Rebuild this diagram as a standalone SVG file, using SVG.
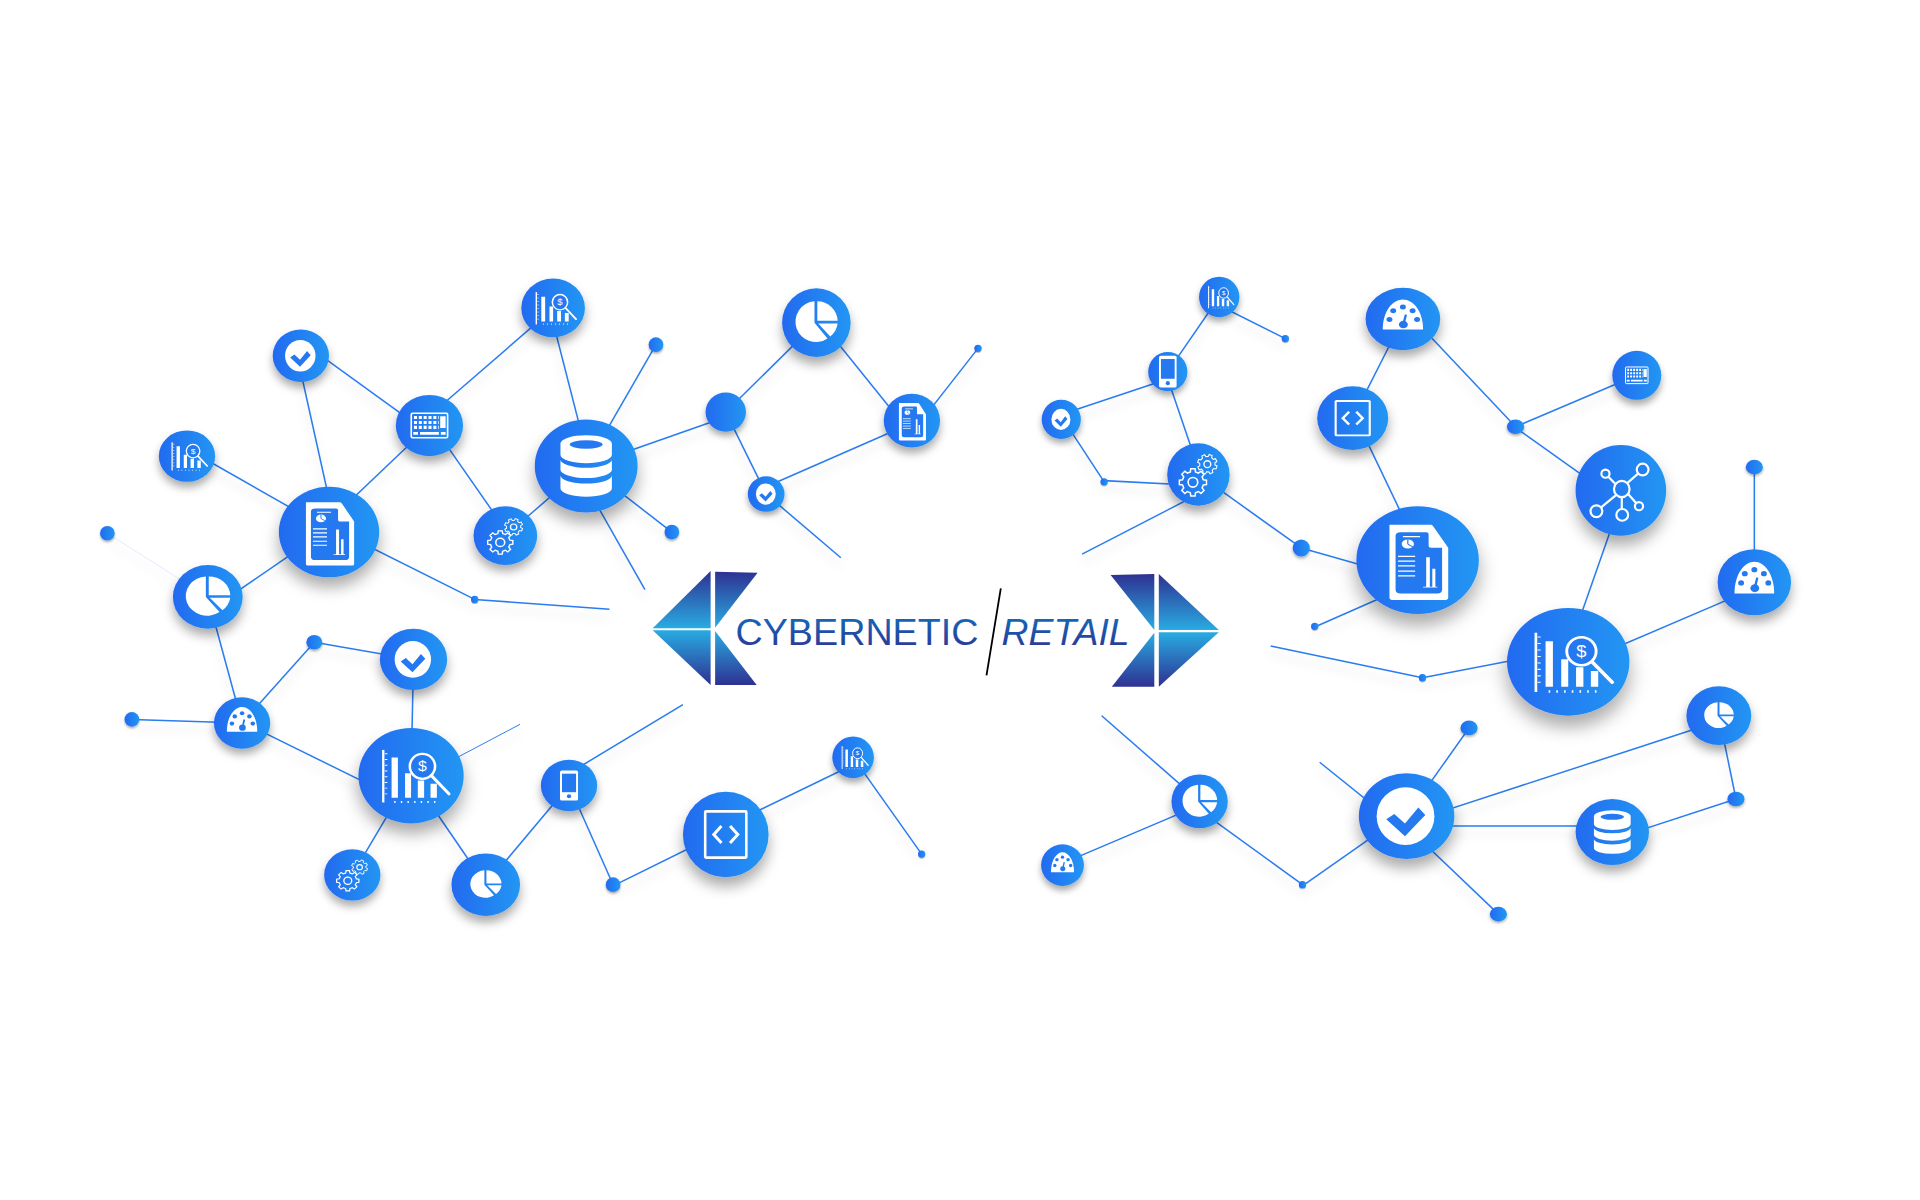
<svg xmlns="http://www.w3.org/2000/svg" width="1920" height="1200" viewBox="0 0 1920 1200">
<style>
.c line{stroke:#2a7cf0;stroke-width:1.25;fill:none}
.w{fill:#fff}.b{fill:#2479f0}
.o{fill:none;stroke:#fff;stroke-width:2.4}
.l{fill:none;stroke:#fff;stroke-width:2}
.f{fill:#2479f0;stroke:#fff;stroke-width:2.4}
.logo text{font-family:"Liberation Sans",Arial,sans-serif;fill:url(#tx)}
</style>
<defs>
<linearGradient id="g" x1="0" x2="1" y1="0" y2="0"><stop offset="0" stop-color="#246af0"/><stop offset="1" stop-color="#2196f3"/></linearGradient>
<linearGradient id="d" x1="0" x2="0" y1="0" y2="1"><stop offset="0" stop-color="#2e3192"/><stop offset="1" stop-color="#29abe2"/></linearGradient>
<linearGradient id="u" x1="0" x2="0" y1="1" y2="0"><stop offset="0" stop-color="#2e3192"/><stop offset="1" stop-color="#29abe2"/></linearGradient>
<linearGradient id="tx" x1="0" x2="0" y1="0" y2="1"><stop offset="0" stop-color="#0f72bd"/><stop offset="1" stop-color="#2e3192"/></linearGradient>
<filter id="s" x="-60%" y="-60%" width="220%" height="240%"><feDropShadow dx="0" dy="11" stdDeviation="8" flood-color="#000" flood-opacity=".33"/></filter>
<filter id="ls" x="-5%" y="-5%" width="110%" height="115%"><feDropShadow dx="0" dy="7" stdDeviation="4" flood-color="#000" flood-opacity=".13"/></filter>
<circle id="disc" r="50" fill="url(#g)" filter="url(#s)"/>
<g id="chart">
<rect class="w" x="-27.5" y="-27" width="2.2" height="55"/>
<path d="M-25-23h2.5M-25-17h2.5M-25-11h2.5M-25-5h2.5M-25 1h2.5M-25 7h2.5M-25 13h2.5M-25 19h2.5" stroke="#fff" stroke-width="1" fill="none"/>
<path class="w" d="M-18.5-19h6v42h-6zM-5.7-2.5h5.7v25.500h-5.700zM6.400 5h6v18h-6zM18.500 8.400h6v14.600h-6z"/>
<path d="M-16 27.500H26" stroke="#fff" stroke-width="2.200" stroke-dasharray="1.300 5" fill="none"/>
<ellipse class="f" cx="10.800" cy="-9.800" rx="12" ry="13"/>
<path d="M19.500 0L36 19" stroke="#fff" stroke-width="3" stroke-linecap="round"/>
<text x="10.800" y="-4.500" text-anchor="middle" font-family="'Liberation Sans',sans-serif" font-size="15" fill="#fff">$</text>
</g>
<g id="check"><ellipse class="w" cx="-1" cy="0" rx="27" ry="30"/><polygon class="b" points="-19,3.300 -11.500,-2.200 -1.500,7.800 11,-8.900 17.500,-1.100 -1.500,21"/></g>
<g id="kbd"><rect class="o" x="-27" y="-20" width="54" height="40" rx="2"/>
<path d="M-23-13H14M-23-5H14M-23 3H14" stroke="#fff" stroke-width="5" stroke-dasharray="4.500 2.700" fill="none"/>
<path class="w" d="M16-15h8v19h-8zM-14 10.500h28v4.500h-28zM-24 10.500h7v4.500h-7zM17 10.500h7v4.500h-7z"/></g>
<g id="doc" transform="translate(1 2) scale(1 .85)"><path class="w" d="M-24-41H10Q11-41 12-39L24-16V39Q24 41 22 41H-22Q-24 41-24 39Z"/>
<path class="b" d="M-19-33H6Q8-33 8-31V-18Q8-16 10-16H19V30Q19 34 15 34H-15Q-19 34-19 30V-29Q-19-33-15-33Z"/>
<circle class="w" cx="-9" cy="-20" r="5"/><path d="M-9-20V-25M-9-20L-5-17" stroke="#2479f0" fill="none"/>
<path d="M-13-28H1M-17-6.500H-3M-17-1.300H-3M-17 3.900H-3M-17 9.500H-3M-17 14.700H-3" stroke="#fff" stroke-width="1.400" fill="none"/>
<path class="w" d="M6-5.600h3v32.600h-3zM11 7h2.500v20h-2.500zM3.500 26.500h11.500v1h-11.500z"/></g>
<g id="db"><path class="w" d="M-25-24A25 9 0 0 1 25-24V-12A25 9 0 0 1-25-12Z"/><ellipse class="b" cx="0" cy="-23" rx="16" ry="4.500"/>
<path class="w" d="M-25-7A25 9 0 0 0 25-7V4A25 9 0 0 1-25 4Z"/><path class="w" d="M-25 10A25 9 0 0 0 25 10V24A25 9 0 0 1-25 24Z"/></g>
<polygon id="gp" points="15.140,-3.770 19.750,-3.130 19.750,3.130 15.140,3.770 13.370,8.030 16.180,11.760 11.760,16.180 8.030,13.370 3.770,15.140 3.130,19.750 -3.130,19.750 -3.770,15.140 -8.030,13.370 -11.760,16.180 -16.180,11.760 -13.370,8.030 -15.140,3.770 -19.750,3.130 -19.750,-3.130 -15.140,-3.770 -13.370,-8.030 -16.180,-11.760 -11.760,-16.180 -8.030,-13.370 -3.770,-15.140 -3.130,-19.750 3.130,-19.750 3.770,-15.140 8.030,-13.370 11.760,-16.180 16.180,-11.760 13.370,-8.030" fill="none" stroke="#fff" stroke-width="2.200"/>
<g id="gears"><use href="#gp" transform="translate(-8 11.400)"/><circle class="o" cx="-8" cy="11.400" r="7"/>
<use href="#gp" transform="translate(13 -15) scale(.72) rotate(20)"/><circle class="l" cx="13" cy="-15" r="5"/></g>
<g id="pie"><path class="w" d="M-2-23A22 22 0 1 0 12 17L-2 0Z"/><path class="w" d="M1-23A22 22 0 0 1 23-2H1Z"/><path class="w" d="M2 1H23A22 22 0 0 1 15 15Z"/></g>
<g id="gauge"><path class="w" d="M-27 17C-27-12-14-31 0-31C14-31 27-12 27 17Z"/>
<g class="b"><circle cx="-13" cy="-13" r="4"/><circle cx="0" cy="-19" r="4"/><circle cx="13" cy="-13" r="4"/><circle cx="-18" cy="1" r="4"/><circle cx="19" cy="1" r="4"/><circle cx=".6" cy="9" r="6"/></g>
<path d="M.6 9L4-7" stroke="#2479f0" stroke-width="3.200"/></g>
<g id="code"><rect x="-24" y="-27" width="48" height="54" fill="none" stroke="#fff" stroke-width="3" rx="1"/>
<path d="M-5-10L-14 0L-5 10M5-10L14 0L5 10" fill="none" stroke="#fff" stroke-width="3.500"/></g>
<g id="phone"><rect class="w" x="-16" y="-29" width="32" height="58" rx="3"/><rect class="b" x="-12.500" y="-23" width="25" height="36"/><circle class="b" cx="0" cy="21" r="3.800"/></g>
<g id="net" class="o"><path d="M7-8L24-23M-6-7L-17-18.500M-5 5L-27 23M1 7V27M8 4L20 17.400"/>
<ellipse cx="1" cy="-1.500" rx="8.600" ry="9"/><ellipse cx="24" cy="-23" rx="6.500" ry="6.500" fill="#2280f1"/><ellipse cx="-17" cy="-18.500" rx="4.500" ry="4.500" fill="#2280f1"/><ellipse cx="-27" cy="23" rx="6.500" ry="6.500" fill="#2280f1"/><ellipse cx="1.500" cy="27" rx="6.500" ry="6.500" fill="#2280f1"/><ellipse cx="20" cy="17.400" rx="4.500" ry="4.500" fill="#2280f1"/></g>
</defs>
<rect width="1920" height="1200" fill="#fff"/>
<g transform="scale(1.2245) translate(.7 .5)">
<g id="connectors" class="c" filter="url(#ls)">
<line x1="245" y1="278" x2="350" y2="354"/><line x1="242" y1="290" x2="274" y2="434"/><line x1="350" y1="339" x2="451" y2="251.600"/><line x1="448" y1="251" x2="481" y2="380"/><line x1="152" y1="366" x2="268" y2="432"/><line x1="268" y1="425" x2="350" y2="347"/><line x1="350" y1="343" x2="412" y2="432"/><line x1="412" y1="437" x2="478" y2="380"/><line x1="478" y1="380" x2="535" y2="281"/><line x1="478" y1="380" x2="592" y2="340"/><line x1="478" y1="380" x2="548" y2="434"/><line x1="480" y1="400" x2="526" y2="481"/><line x1="268" y1="431" x2="169" y2="499"/><line x1="268" y1="429.500" x2="387" y2="489"/><line x1="387" y1="489" x2="497" y2="497"/>
<line x1="87" y1="435" x2="169" y2="487" style="stroke:#dde9fd;stroke-width:.7"/>
<line x1="169" y1="487" x2="197" y2="590"/><line x1="197" y1="590" x2="256" y2="524"/><line x1="256" y1="524" x2="337" y2="538"/><line x1="107" y1="587" x2="197" y2="590"/><line x1="197" y1="589" x2="335" y2="657"/><line x1="337" y1="538" x2="335" y2="633"/><line x1="335" y1="638" x2="424" y2="591" style="stroke-width:.8"/><line x1="335" y1="633" x2="287" y2="714"/><line x1="335" y1="633" x2="396" y2="722"/><line x1="396" y1="722" x2="464" y2="641"/><line x1="464" y1="631" x2="557" y2="575"/><line x1="464" y1="641" x2="500" y2="722"/><line x1="500" y1="723" x2="592" y2="677.500"/><line x1="592" y1="674.500" x2="696" y2="624"/><line x1="696" y1="618" x2="752" y2="697"/><line x1="592" y1="336" x2="666" y2="263"/><line x1="592" y1="336" x2="625" y2="403"/><line x1="666" y1="258" x2="744" y2="354.700"/><line x1="744" y1="353" x2="798" y2="284"/><line x1="744" y1="345" x2="625" y2="397"/><line x1="625" y1="403" x2="686" y2="455"/>
<line x1="995" y1="249" x2="1049" y2="276"/><line x1="995" y1="242" x2="953" y2="303"/><line x1="953" y1="309" x2="866" y2="338"/><line x1="951" y1="303" x2="979.600" y2="387"/><line x1="866" y1="339.500" x2="901" y2="393"/><line x1="901" y1="392" x2="978" y2="396"/><line x1="978" y1="403" x2="883" y2="452"/><line x1="978" y1="387" x2="1062" y2="447"/><line x1="1062" y1="447" x2="1157" y2="474"/><line x1="1145" y1="260" x2="1104" y2="341"/><line x1="1106.500" y1="341" x2="1162" y2="457"/><line x1="1145" y1="250.600" x2="1237" y2="348"/><line x1="1237" y1="348" x2="1336" y2="306"/><line x1="1237" y1="348.700" x2="1323" y2="410"/><line x1="1326" y1="400" x2="1277" y2="540"/><line x1="1157" y1="474.600" x2="1073" y2="511.600"/><line x1="1037" y1="527" x2="1161" y2="553"/><line x1="1161" y1="553" x2="1280" y2="530"/><line x1="1280" y1="545" x2="1432" y2="480"/><line x1="1432" y1="475" x2="1432" y2="381"/><line x1="1148" y1="666" x2="1199" y2="594"/><line x1="1148" y1="671.700" x2="1403" y2="588.500"/><line x1="1148" y1="674" x2="1316" y2="674"/><line x1="1148" y1="674.500" x2="1223" y2="746"/><line x1="1077" y1="622" x2="1148" y2="679"/><line x1="1148" y1="663.300" x2="1063" y2="723"/><line x1="1403" y1="584" x2="1417" y2="652"/><line x1="1417" y1="652" x2="1316" y2="685"/><line x1="979" y1="654" x2="899" y2="584"/><line x1="979" y1="657" x2="867" y2="704.600"/><line x1="979" y1="661" x2="1063" y2="722"/>
</g>
<g id="n1" transform="translate(451 251) scale(.52 .48)"><use href="#disc"/><use href="#chart"/></g>
<g id="n2" transform="translate(245 290) scale(.46 .43)"><use href="#disc"/><use href="#check"/></g>
<g id="n3" transform="translate(350 347) scale(.55 .5)"><use href="#disc"/><use href="#kbd"/></g>
<g id="n4" transform="translate(152 372) scale(.46 .42)"><use href="#disc"/><use href="#chart"/></g>
<g id="n5" transform="translate(268 434) scale(.82 .74)"><use href="#disc"/><use href="#doc"/></g>
<g id="n6" transform="translate(478 380) scale(.84 .76)"><use href="#disc"/><use href="#db"/></g>
<g id="n7" transform="translate(412 437) scale(.52 .48)"><use href="#disc"/><use href="#gears"/></g>
<g id="n8" transform="translate(169 487) scale(.57 .52)"><use href="#disc"/><use href="#pie" transform="scale(1.4)"/></g>
<g id="n9" transform="translate(87 435) scale(.12)"><use href="#disc"/></g>
<g id="n10" transform="translate(535 281) scale(.12)"><use href="#disc"/></g>
<g id="n11" transform="translate(548 434) scale(.12)"><use href="#disc"/></g>
<g id="n12" transform="translate(387 489) scale(.06)"><use href="#disc"/></g>
<g id="n13" transform="translate(592 336) scale(.33 .32)"><use href="#disc"/></g>
<g id="n14" transform="translate(666 263) scale(.56)"><use href="#disc"/><use href="#pie" transform="scale(1.35)"/></g>
<g id="n15" transform="translate(744 343) scale(.46 .44)"><use href="#disc"/><use href="#doc"/></g>
<g id="n16" transform="translate(625 403) scale(.3 .29)"><use href="#disc"/><use href="#check"/></g>
<g id="n17" transform="translate(798 284) scale(.06)"><use href="#disc"/></g>
<g id="n18" transform="translate(337 538) scale(.55 .5)"><use href="#disc"/><use href="#check"/></g>
<g id="n19" transform="translate(256 524) scale(.13 .12)"><use href="#disc"/></g>
<g id="n20" transform="translate(197 590) scale(.46 .42)"><use href="#disc"/><use href="#gauge"/></g>
<g id="n21" transform="translate(107 587) scale(.12)"><use href="#disc"/></g>
<g id="n22" transform="translate(335 633) scale(.86 .78)"><use href="#disc"/><use href="#chart"/></g>
<g id="n23" transform="translate(287 714) scale(.46 .42)"><use href="#disc"/><use href="#gears"/></g>
<g id="n24" transform="translate(396 722) scale(.56 .51)"><use href="#disc"/><use href="#pie"/></g>
<g id="n25" transform="translate(464 641) scale(.46 .42)"><use href="#disc"/><use href="#phone"/></g>
<g id="n26" transform="translate(500 722) scale(.12)"><use href="#disc"/></g>
<g id="n27" transform="translate(592 681) scale(.7)"><use href="#disc"/><use href="#code"/></g>
<g id="n28" transform="translate(696 618) scale(.34)"><use href="#disc"/><use href="#chart"/></g>
<g id="n29" transform="translate(752 697) scale(.06)"><use href="#disc"/></g>
<g id="n30" transform="translate(995 242) scale(.33)"><use href="#disc"/><use href="#chart"/></g>
<g id="n31" transform="translate(1049 276) scale(.06)"><use href="#disc"/></g>
<g id="n32" transform="translate(953 303) scale(.32)"><use href="#disc"/><use href="#phone" transform="scale(1.4)"/></g>
<g id="n33" transform="translate(866 342) scale(.32)"><use href="#disc"/><use href="#check" transform="scale(.9)"/></g>
<g id="n34" transform="translate(978 387) scale(.51)"><use href="#disc"/><use href="#gears" transform="scale(1.1)"/></g>
<g id="n35" transform="translate(901 393) scale(.06)"><use href="#disc"/></g>
<g id="n36" transform="translate(1062 447) scale(.14)"><use href="#disc"/></g>
<g id="n37" transform="translate(1145 260) scale(.61 .51)"><use href="#disc"/><use href="#gauge"/></g>
<g id="n38" transform="translate(1104 341) scale(.58 .52)"><use href="#disc"/><use href="#code"/></g>
<g id="n39" transform="translate(1157 457) scale(1 .88)"><use href="#disc"/><use href="#doc"/></g>
<g id="n40" transform="translate(1073 511) scale(.06)"><use href="#disc"/></g>
<g id="n41" transform="translate(1237 348) scale(.14 .12)"><use href="#disc"/></g>
<g id="n42" transform="translate(1336 306) scale(.4)"><use href="#disc"/><use href="#kbd" transform="scale(.85)"/></g>
<g id="n43" transform="translate(1323 400) scale(.74)"><use href="#disc"/><use href="#net"/></g>
<g id="n44" transform="translate(1432 381) scale(.14 .12)"><use href="#disc"/></g>
<g id="n45" transform="translate(1432 475) scale(.6 .54)"><use href="#disc"/><use href="#gauge"/></g>
<g id="n46" transform="translate(1280 540) scale(1 .88)"><use href="#disc"/><use href="#chart"/></g>
<g id="n47" transform="translate(1161 553) scale(.06)"><use href="#disc"/></g>
<g id="n48" transform="translate(1199 594) scale(.14 .12)"><use href="#disc"/></g>
<g id="n49" transform="translate(1403 584) scale(.53 .48)"><use href="#disc"/><use href="#pie"/></g>
<g id="n50" transform="translate(1148 666) scale(.78 .7)"><use href="#disc"/><use href="#check" transform="scale(1.12)"/></g>
<g id="n51" transform="translate(1316 679) scale(.6 .54)"><use href="#disc"/><use href="#db"/></g>
<g id="n52" transform="translate(1417 652) scale(.14 .12)"><use href="#disc"/></g>
<g id="n53" transform="translate(1223 746) scale(.14 .12)"><use href="#disc"/></g>
<g id="n54" transform="translate(979 654) scale(.46 .44)"><use href="#disc"/><use href="#pie" transform="scale(1.35)"/></g>
<g id="n55" transform="translate(867 706) scale(.35 .34)"><use href="#disc"/><use href="#gauge"/></g>
<g id="n56" transform="translate(1063 722) scale(.06)"><use href="#disc"/></g>
</g>
<g id="logo" class="logo">
<polygon points="710.600,571 710.600,628.300 652.700,628.300" fill="url(#d)"/>
<polygon points="652.700,630.300 710.600,685 710.600,630.300" fill="url(#u)"/>
<polygon points="715.100,571.700 757.600,572.700 715.100,627.700" fill="url(#d)"/>
<polygon points="715.100,631 715.100,685 756.700,685" fill="url(#u)"/>
<polygon points="1110.600,575 1154.300,574 1154.300,630" fill="url(#d)"/>
<polygon points="1154.300,632.700 1154.300,686.700 1111.800,686.700" fill="url(#u)"/>
<polygon points="1158.800,574 1158.800,630 1218.800,630" fill="url(#d)"/>
<polygon points="1158.800,632.300 1218.800,632.300 1158.800,686.700" fill="url(#u)"/>
<text x="735.500" y="645" font-size="37.400" textLength="243" lengthAdjust="spacingAndGlyphs">CYBERNETIC</text>
<line x1="1000.800" y1="588.300" x2="986.500" y2="675.300" stroke="#000" stroke-width="1.800"/>
<text x="1001.600" y="645" font-size="36.500" font-style="italic" textLength="128" lengthAdjust="spacingAndGlyphs">RETAIL</text>
</g>
</svg>
